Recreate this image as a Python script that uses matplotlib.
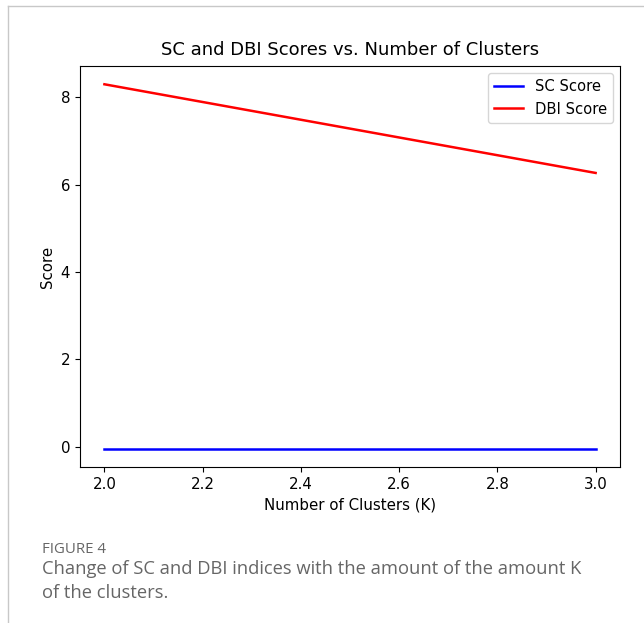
import matplotlib.pyplot as plt
from matplotlib.lines import Line2D

# Values
k_values = [2, 3]
sc_scores = [-0.05, -0.05]
dbi_scores = [8.30, 6.27]

fig = plt.figure(figsize=(6.44, 6.23), dpi=100)

# Thin page frame (top and left edges)
fig.add_artist(Line2D([0.0125, 1.0], [0.9905, 0.9905], color="#c8c8c8", lw=1))
fig.add_artist(Line2D([0.0125, 0.0125], [0.0, 0.9905], color="#c8c8c8", lw=1))

ax = fig.add_axes([0.124, 0.250, 0.839, 0.644])
ax.plot(k_values, sc_scores, color="blue", lw=1.8, label="SC Score")
ax.plot(k_values, dbi_scores, color="red", lw=1.8, label="DBI Score")

ax.set_title("SC and DBI Scores vs. Number of Clusters", fontsize=13, pad=8)
ax.set_xlabel("Number of Clusters (K)", fontsize=10.8)
ax.set_ylabel("Score", fontsize=10.8)
ax.tick_params(labelsize=10.8)
ax.set_yticks([0, 2, 4, 6, 8])
ax.legend(loc="upper right", fontsize=10.6)

# Caption below the chart
fig.text(0.065, 0.113, "FIGURE 4", fontsize=10.8, color="#666666", family="Open Sans")
fig.text(0.065, 0.078, "Change of SC and DBI indices with the amount of the amount K",
         fontsize=13.2, color="#666666", family="Open Sans")
fig.text(0.065, 0.040, "of the clusters.", fontsize=13.2, color="#666666", family="Open Sans")

plt.savefig("out.png", dpi=100)
